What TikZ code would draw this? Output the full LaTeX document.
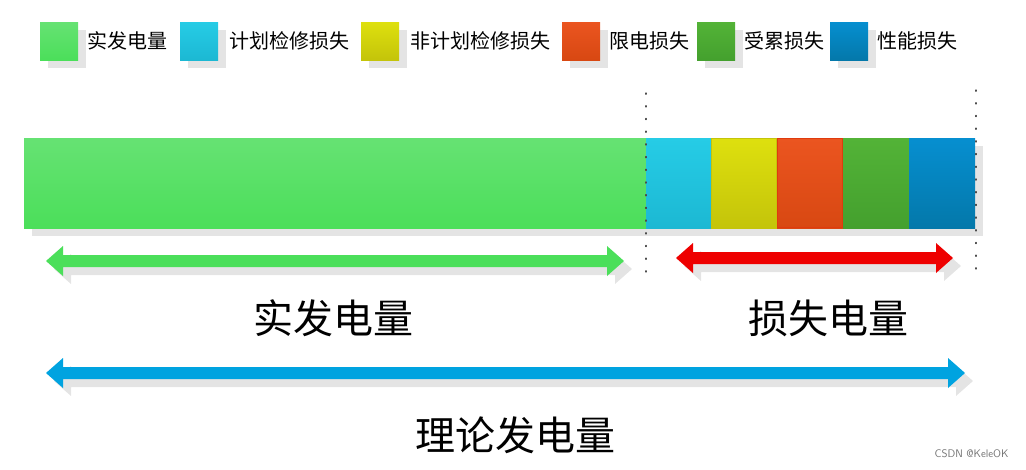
\documentclass[tikz,border=0pt]{standalone}
\usepackage{fontspec}
\newfontfamily\cjk{Noto Sans CJK SC}
\definecolor{shd}{HTML}{E4E4E4}
\definecolor{gA}{HTML}{66E273}\definecolor{gB}{HTML}{4BDF5A}
\definecolor{cA}{HTML}{26CCE6}\definecolor{cB}{HTML}{1CB8D3}
\definecolor{yA}{HTML}{DEE00E}\definecolor{yB}{HTML}{C4C40A}
\definecolor{oA}{HTML}{EB5520}\definecolor{oB}{HTML}{D84812}
\definecolor{dA}{HTML}{53B337}\definecolor{dB}{HTML}{44A02E}
\definecolor{bA}{HTML}{068FD0}\definecolor{bB}{HTML}{0478AA}
\definecolor{redA}{HTML}{EE0000}
\definecolor{blueA}{HTML}{00A3E0}
\tikzset{x=1pt,y=-1pt,
 lg/.style={font=\cjk\fontsize{20}{20}\selectfont,anchor=west,inner sep=0},
 big/.style={font=\cjk\fontsize{40}{40}\selectfont}}
\newcommand{\seg}[6]{% x1 y1 x2 y2 colA colB
 \shade[top color=#5,bottom color=#6] (#1,#2) rectangle (#3,#4);}
\newcommand{\dbl}[4]{% x1 x2 y color
 \fill[#4] (#1,#3) -- (#1+17,#3-15) -- (#1+17,#3-6) -- (#2-17,#3-6) -- (#2-17,#3-15) -- (#2,#3) -- (#2-17,#3+15) -- (#2-17,#3+6) -- (#1+17,#3+6) -- (#1+17,#3+15) -- cycle;}
\begin{document}
\begin{tikzpicture}
\useasboundingbox (0,0) rectangle (1026,469);
% legend
\foreach \x/\ca/\cb in {40/gA/gB,180/cA/cB,361/yA/yB,562/oA/oB,697/dA/dB,830/bA/bB}{
 \fill[shd] (\x+8,30) rectangle (\x+46,68);
 \shade[top color=\ca,bottom color=\cb] (\x,22) rectangle (\x+38,60);}
\node[lg] (l1) at (87,41) {实发电量};
\node[lg] (l2) at (229,41) {计划检修损失};
\node[lg] (l3) at (410,41) {非计划检修损失};
\node[lg] (l4) at (609,41) {限电损失};
\node[lg] (l5) at (744,41) {受累损失};
\node[lg] (l6) at (877,41) {性能损失};
% bar shadow
\fill[shd] (32,146) rectangle (983,236);
\seg{24}{138}{646}{228}{gA}{gB}
\seg{646}{138}{711}{228}{cA}{cB}
\seg{711}{138}{777}{228}{yA}{yB}
\seg{777}{138}{843}{228}{oA}{oB}
\seg{843}{138}{909}{228}{dA}{dB}
\seg{909}{138}{975}{228}{bA}{bB}
\draw[yB,line width=0.8pt] (711.5,138.5) rectangle (776.5,227.5);
\draw[oB!80!red,line width=0.6pt] (777.5,138.5) rectangle (842.5,227.5);
% dotted lines
\draw[black!70,line width=1.2pt,dash pattern=on 1.2pt off 11.5pt,line cap=round] (646,93) -- (646,272);
\draw[black!70,line width=1.2pt,dash pattern=on 1.2pt off 11.5pt,line cap=round] (976,90) -- (976,270);
% arrows
\begin{scope}[shift={(8,8)}]
\dbl{46}{624}{261}{shd}
\dbl{676}{953}{258}{shd}
\dbl{46}{965}{373}{shd}
\end{scope}
\dbl{46}{624}{261}{gB}
\dbl{676}{953}{258}{redA}
\dbl{46}{965}{373}{blueA}
\node[big] (t1) at (333,318) {实发电量};
\node[big] (t2) at (828,318) {损失电量};
\node[big] (t3) at (515,435) {理论发电量};
\node[font=\fontsize{11}{11}\selectfont\sffamily,text=black!55,anchor=east] (wm) at (1012,454) {CSDN @KeleOK};
\end{tikzpicture}
\end{document}
